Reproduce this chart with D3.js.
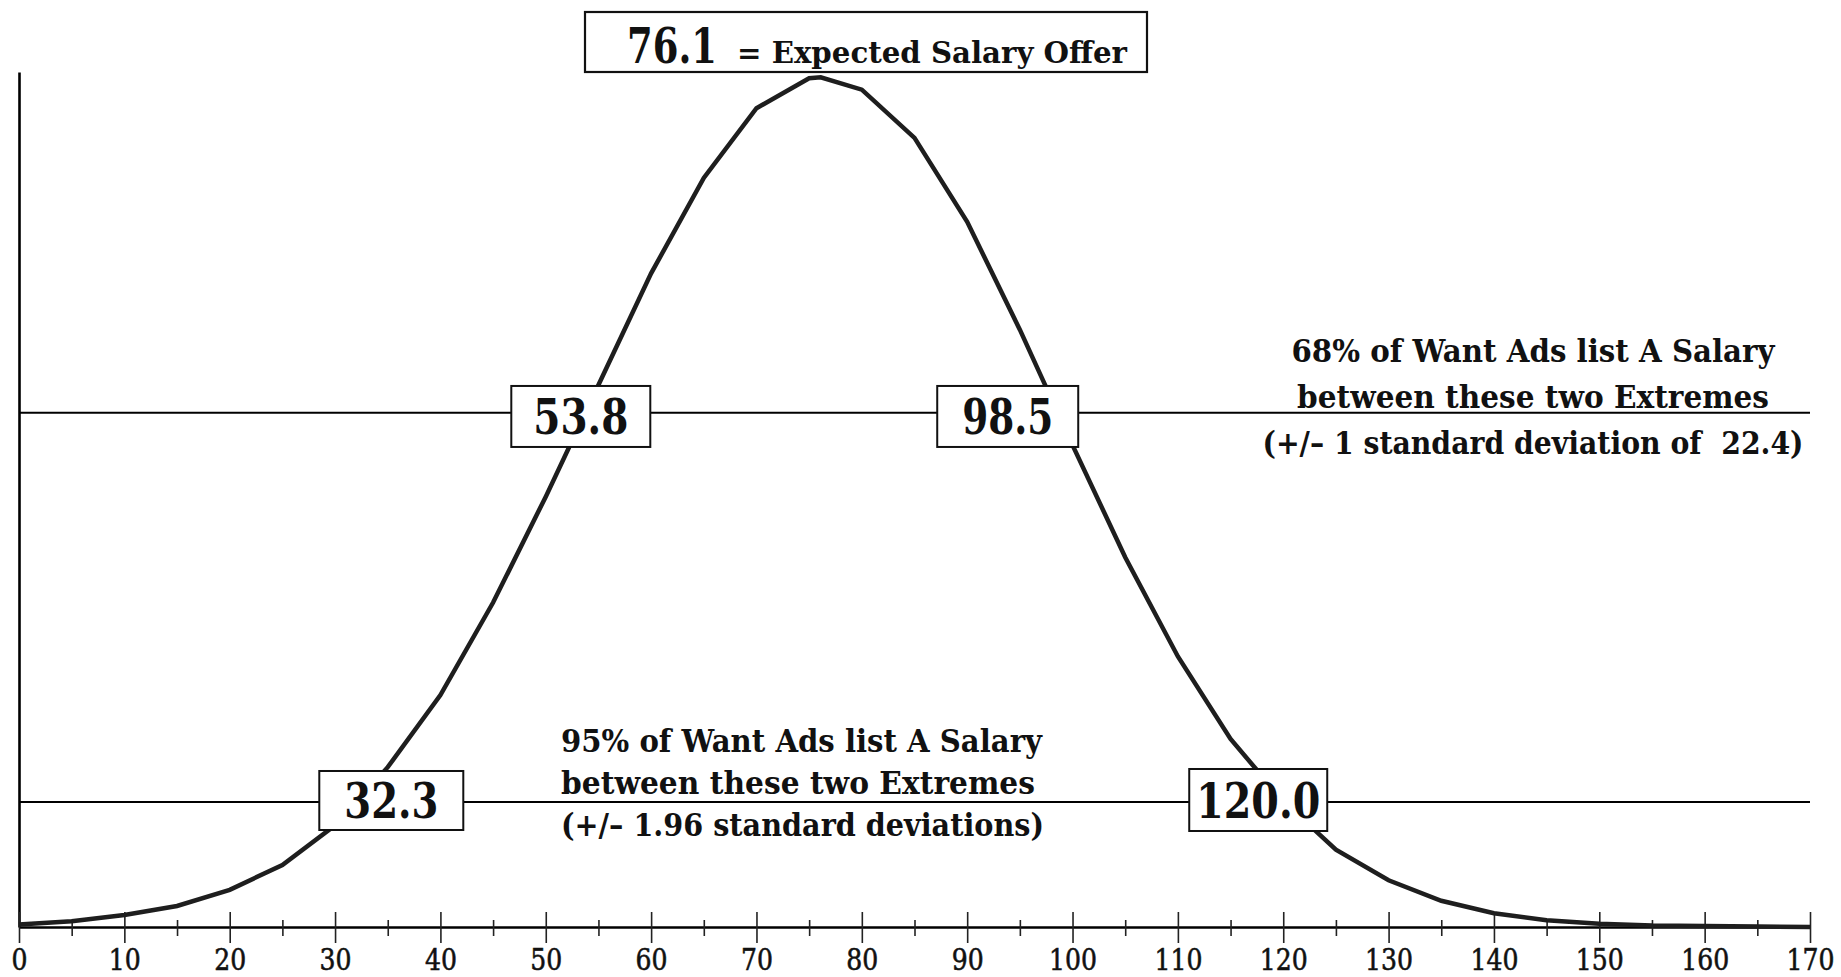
<!DOCTYPE html>
<html>
<head>
<meta charset="utf-8">
<script src="https://cdn.jsdelivr.net/npm/d3@7"></script>
<style>
  body { margin: 0; background: #fff; }
  text { font-family: "DejaVu Serif", serif; fill: #111; }
</style>
</head>
<body>
<div id="container"></div>
<script>
const w = 1841,
    h = 977;

// salary (thousands) and curve height
const salary = [0, 5, 10, 15, 20, 25, 30, 35, 40, 45, 50, 55, 60, 65, 70, 75, 76.1,
    80, 85, 90, 95, 100, 105, 110, 115, 120, 125, 130, 135, 140, 145, 150, 155, 160, 165, 170];
const height = [0.05, 0.12, 0.25, 0.44, 0.78, 1.30, 2.13, 3.35, 4.86, 6.80, 9.02, 11.36, 13.70, 15.70, 17.16, 17.79, 17.81,
    17.55, 16.54, 14.78, 12.52, 10.10, 7.75, 5.67, 3.94, 2.64, 1.62, 0.98, 0.55, 0.29, 0.14, 0.07, 0.03, 0.02, 0.01, 0.00];

const majorTicks = [0, 10, 20, 30, 40, 50, 60, 70, 80, 90, 100, 110, 120, 130, 140, 150, 160, 170];
const minorTicks = [5, 15, 25, 35, 45, 55, 65, 75, 85, 95, 105, 115, 125, 135, 145, 155, 165];

const expected = 76.1;
const bandLevels = [10.78, 2.62];           // curve height at +/-1 sd and +/-1.96 sd
const bandBounds = [53.8, 98.5, 32.3, 120.0];
const bandBoundLabels = ["53.8", "98.5", "32.3", "120.0"];
const bandOfBound = [0, 0, 1, 1];
const note68 = ["68% of Want Ads list A Salary", "between these two Extremes", "(+/\u2013 1 standard deviation of  22.4)"];
const note95 = ["95% of Want Ads list A Salary", "between these two Extremes", "(+/\u2013 1.96 standard deviations)"];

var svg = d3.select("div#container")
    .append("svg")
    .attr("width", w)
    .attr("height", h)
    .style("display", "block")
    .style("background-color", "#fff");

var x = d3.scaleLinear().domain([0, 170]).range([19, 1810]);
var y = d3.scaleLinear().domain([0, 17.92]).range([927, 72]);

// horizontal band lines
svg.selectAll(".band")
    .data(bandLevels)
    .enter().append("line")
    .attr("class", "band")
    .attr("x1", x(0))
    .attr("x2", x(170))
    .attr("y1", d => y(d))
    .attr("y2", d => y(d))
    .style("stroke", "#000")
    .style("stroke-width", 2);

// y axis: bare line
svg.append("g")
    .attr("transform", "translate(" + x(0) + ",0)")
    .call(d3.axisLeft(y).tickValues([]).tickSizeOuter(0))
    .select(".domain")
    .style("stroke", "#000")
    .style("stroke-width", 2.6);

// x axis, major ticks cross the line
var xAxis = svg.append("g")
    .attr("transform", "translate(0," + y(0) + ")")
    .call(d3.axisBottom(x).tickValues(majorTicks).tickSize(16).tickSizeOuter(0));
xAxis.select(".domain").style("stroke", "#000").style("stroke-width", 2.6);
xAxis.selectAll(".tick line")
    .attr("y1", -15)
    .style("stroke", "#222")
    .style("stroke-width", 1.6);
xAxis.selectAll(".tick text")
    .attr("y", 43)
    .attr("dy", 0)
    .attr("textLength", d => String(d).length * 16)
    .attr("lengthAdjust", "spacingAndGlyphs")
    .style("font-family", "'DejaVu Serif', serif")
    .style("font-size", "30px")
    .style("fill", "#111")
    .style("stroke", "#111")
    .style("stroke-width", 0.6);

svg.append("g")
    .attr("transform", "translate(0," + y(0) + ")")
    .call(d3.axisBottom(x).tickValues(minorTicks).tickSize(9).tickFormat(""))
    .call(g => g.select(".domain").remove())
    .selectAll(".tick line")
    .attr("y1", -7)
    .style("stroke", "#222")
    .style("stroke-width", 1.6);

// the curve
var points = salary.map((s, i) => [s, height[i]]);
svg.append("path")
    .datum(points)
    .attr("fill", "none")
    .attr("stroke", "#1e1e1e")
    .attr("stroke-width", 4.5)
    .attr("stroke-linejoin", "miter")
    .attr("d", d3.line().x(d => x(d[0])).y(d => y(d[1])));

// boxes on the band lines
var boxLayout = [
    {dx: -5, dy: 3.8, bw: 139, bh: 61, tw: 95},
    {dx: -49, dy: 3.8, bw: 141, bh: 61, tw: 91},
    {dx: 32, dy: -1.5, bw: 144, bh: 59, tw: 94},
    {dx: -25, dy: -2, bw: 138, bh: 62, tw: 124}
];
bandBounds.forEach(function (v, i) {
    var l = boxLayout[i];
    var cx = x(v) + l.dx,
        cy = y(bandLevels[bandOfBound[i]]) + l.dy;
    var g = svg.append("g").attr("transform", "translate(" + cx + "," + cy + ")");
    g.append("rect")
        .attr("x", -l.bw / 2)
        .attr("y", -l.bh / 2)
        .attr("width", l.bw)
        .attr("height", l.bh)
        .style("fill", "#fff")
        .style("stroke", "#111")
        .style("stroke-width", 2);
    g.append("text")
        .attr("x", 0)
        .attr("y", 18)
        .attr("text-anchor", "middle")
        .attr("textLength", l.tw)
        .attr("lengthAdjust", "spacingAndGlyphs")
        .style("font-weight", "bold")
        .style("font-size", "49px")
        .text(bandBoundLabels[i]);
});

// expected salary box at the top
var title = svg.append("g");
title.append("rect")
    .attr("x", 585)
    .attr("y", 12)
    .attr("width", 562)
    .attr("height", 60)
    .style("fill", "#fff")
    .style("stroke", "#111")
    .style("stroke-width", 2.2);
title.append("text")
    .attr("x", 627)
    .attr("y", 63)
    .attr("textLength", 90)
    .attr("lengthAdjust", "spacingAndGlyphs")
    .style("font-weight", "bold")
    .style("font-size", "48px")
    .text(expected.toFixed(1));
title.append("text")
    .attr("x", 737)
    .attr("y", 63)
    .attr("textLength", 390)
    .attr("lengthAdjust", "spacingAndGlyphs")
    .style("font-weight", "bold")
    .style("font-size", "30px")
    .text("= Expected Salary Offer");

// notes
var note68Widths = [483, 472, 541];
svg.selectAll(".note68")
    .data(note68)
    .enter().append("text")
    .attr("class", "note68")
    .attr("x", 1533)
    .attr("y", (d, i) => 362 + i * 46)
    .attr("text-anchor", "middle")
    .attr("textLength", (d, i) => note68Widths[i])
    .attr("lengthAdjust", "spacingAndGlyphs")
    .style("white-space", "pre")
    .style("font-weight", "bold")
    .style("font-size", "31px")
    .text(d => d);

var note95Widths = [481, 474, 483];
svg.selectAll(".note95")
    .data(note95)
    .enter().append("text")
    .attr("class", "note95")
    .attr("x", 561)
    .attr("y", (d, i) => 752 + i * 42)
    .attr("textLength", (d, i) => note95Widths[i])
    .attr("lengthAdjust", "spacingAndGlyphs")
    .style("white-space", "pre")
    .style("font-weight", "bold")
    .style("font-size", "31px")
    .text(d => d);
</script>
</body>
</html>
